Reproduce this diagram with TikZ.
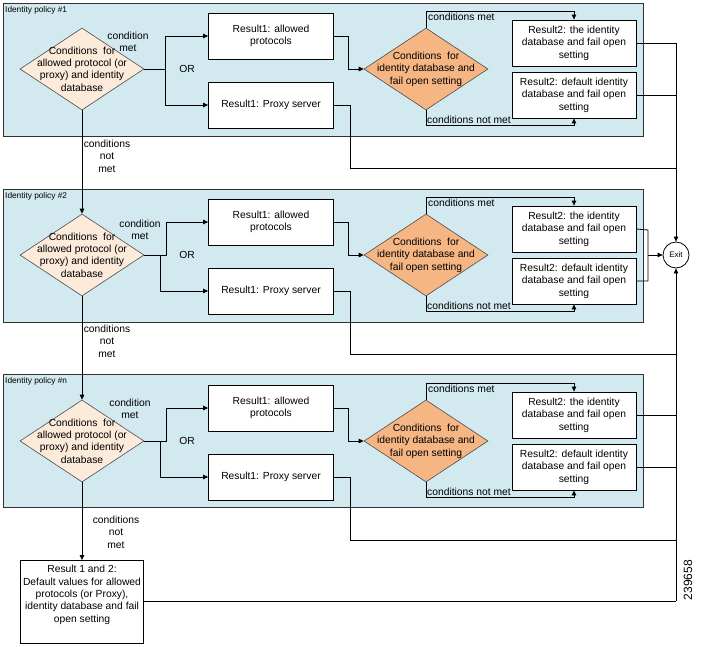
\documentclass[tikz,border=0pt]{standalone}
\usepackage{fontspec}
\setmainfont{Liberation Sans}
\usetikzlibrary{arrows.meta,shapes.geometric}
\definecolor{panelfill}{RGB}{210,233,240}
\definecolor{panelline}{RGB}{50,50,50}
\definecolor{peach}{RGB}{252,234,219}
\definecolor{orangefill}{RGB}{246,182,132}
\tikzset{
  txt/.style={font=\fontsize{10.3}{12.4}\selectfont, align=center, inner sep=0pt},
  panel/.style={draw=panelline, fill=panelfill, line width=0.8pt},
  rbox/.style={draw=black, fill=white, line width=0.8pt, minimum width=125pt, minimum height=46pt, txt},
  rbox2/.style={draw=black, fill=white, line width=0.8pt, minimum width=124pt, minimum height=46pt, txt},
  ldia/.style={diamond, draw=black!70, fill=peach, line width=0.6pt, minimum width=124pt, minimum height=82pt, inner sep=0pt},
  rdia/.style={diamond, draw=black!70, fill=orangefill, line width=0.6pt, minimum width=124pt, minimum height=82pt, inner sep=0pt},
  conn/.style={draw=black, line width=0.8pt},
  arr/.style={conn, -{Triangle[length=5pt,width=4.5pt]}},
  lbl/.style={txt},
  ptitle/.style={font=\fontsize{8.3}{10}\selectfont, inner sep=0pt, anchor=north west}
}
\begin{document}
\begin{tikzpicture}[x=1pt,y=-1pt]
\useasboundingbox (0,0) rectangle (703,646);
% panels
\foreach \i/\top/\bot in {1/3/136, 2/189/322, 3/374/507}{
  \path[panel] (3,\top) rectangle (643,\bot);
  \node[ptitle] (pt\i) at (5,{\top+3}) {Identity policy \ifnum\i=3 \#n\else\#\i\fi};
}
% nodes per panel
\foreach \i/\oy/\bx/\cx/\lx/\ly in {1/0/165/165/128/42, 2/186/166/160/140/44, 3/372/166/160/130/37}{
  \node[ldia] (d\i) at (82,{69+\oy}) {};
  \node[txt] (dt\i) at (82,{69+\oy}) {Conditions\ \ for\\allowed protocol (or\\proxy) and identity\\database};
  \node[rbox] (ra\i) at (271,{36+\oy}) {Result1: allowed\\protocols};
  \node[rbox] (rp\i) at (271,{105+\oy}) {Result1: Proxy server};
  \node[rdia] (od\i) at (426,{69+\oy}) {};
  \node[txt] (odt\i) at (426,{69+\oy}) {Conditions\ \ for\\identity database and\\fail open setting};
  \node[rbox2] (rt\i) at (574,{43+\oy}) {Result2: the identity\\database and fail open\\setting};
  \node[rbox2] (rd\i) at (574,{95+\oy}) {Result2: default identity\\database and fail open\\setting};
  \node[lbl] (cm\i) at (\lx,{\ly+\oy}) {condition\\met};
  \node[lbl] (or\i) at (187,{69+\oy}) {OR};
  \node[lbl, anchor=north west] (ml\i) at (428,{13+\oy}) {conditions met};
  \node[lbl, anchor=south west] (nl\i) at (427,{124+\oy}) {conditions not met};
  % connectors
  \draw[arr] (d\i.east) -- (\bx,{69+\oy}) |- (ra\i.west);
  \draw[arr] (d\i.east) -- (\cx,{69+\oy}) |- (rp\i.west);
  \draw[arr] (ra\i.east) -- ++(14,0) |- (od\i.west);
  \draw[arr] (od\i.north) -- ++(0,-16) -| (rt\i.north);
  \draw[arr] (od\i.south) -- ++(0,15) -| (rd\i.south);
  \coordinate (pe\i) at (676,{168+\oy});
  \draw[conn] (rp\i.east) -- ++(16,0) |- (pe\i);
}
% exit
\node[draw=black, fill=white, circle, line width=0.8pt, minimum size=26pt, inner sep=0pt, font=\fontsize{8}{10}\selectfont] (exit) at (676,255) {Exit};
% default box
\node[draw=black, fill=white, line width=0.8pt, minimum width=123pt, minimum height=83pt, anchor=north, inner sep=0pt] (def) at (82,560) {};
\node[txt, anchor=north] (deft) at (82,565) {Result 1 and 2:\\Default values for allowed\\protocols (or Proxy),\\identity database and fail\\open setting};
% vertical connections between panels
\draw[arr] (d1.south) -- (d2.north);
\draw[arr] (d2.south) -- (d3.north);
\draw[arr] (d3.south) -- (def.north);
\node[lbl] (nm1) at (107,156) {conditions\\not\\met};
\node[lbl] (nm2) at (107,341) {conditions\\not\\met};
\node[lbl] (nm3) at (116,532) {conditions\\not\\met};
% result2 to exit
\coordinate (t1) at (676,43);
\coordinate (b3) at (676,601);
\draw[conn] (rt1.east) -- (t1);
\draw[conn] (rd1.east) -- (676,95);
\draw[arr] (t1) -- (exit.north);
\draw[conn] (rt2.east) -- (648,230) -- (648,281) -- (rd2.east);
\draw[arr] (648,255) -- (exit.west);
\draw[conn] (rt3.east) -- (676,415);
\draw[conn] (rd3.east) -- (676,467);
\draw[conn] (def.east |- b3) -- (b3);
\draw[arr] (b3) -- (exit.south);
% figure number
\node[rotate=90, font=\fontsize{12}{14}\selectfont, inner sep=0pt] (fig) at (688,580) {239658};
\end{tikzpicture}
\end{document}
